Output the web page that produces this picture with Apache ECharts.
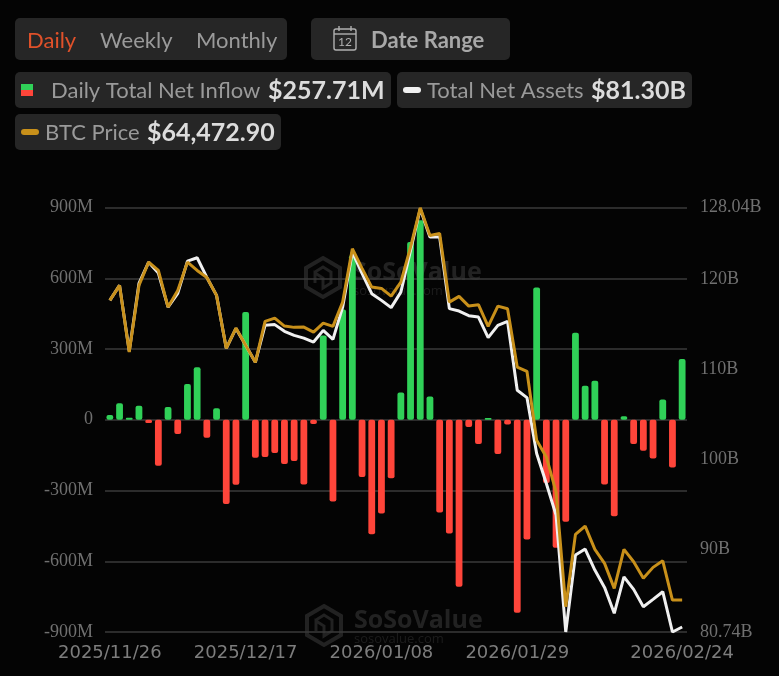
<!DOCTYPE html>
<html>
<head>
<meta charset="utf-8">
<title>Daily Total Net Inflow</title>
<style>
  html, body { margin: 0; padding: 0; background: #040404; }
  #chart { width: 779px; height: 676px; }
</style>
</head>
<body>
<div id="chart"></div>
<script src="https://cdn.jsdelivr.net/npm/echarts@6/dist/echarts.min.js"></script>
<script>
var dates = [
  '2025/11/26','2025/11/28','2025/12/01','2025/12/02','2025/12/03','2025/12/04','2025/12/05','2025/12/08','2025/12/09','2025/12/10',
  '2025/12/11','2025/12/12','2025/12/15','2025/12/16','2025/12/17','2025/12/18','2025/12/19','2025/12/22','2025/12/23','2025/12/24',
  '2025/12/26','2025/12/29','2025/12/30','2025/12/31','2026/01/02','2026/01/05','2026/01/06','2026/01/07','2026/01/08','2026/01/09',
  '2026/01/12','2026/01/13','2026/01/14','2026/01/15','2026/01/16','2026/01/20','2026/01/21','2026/01/22','2026/01/23','2026/01/26',
  '2026/01/27','2026/01/28','2026/01/29','2026/01/30','2026/02/02','2026/02/03','2026/02/04','2026/02/05','2026/02/06','2026/02/09',
  '2026/02/10','2026/02/11','2026/02/12','2026/02/13','2026/02/17','2026/02/18','2026/02/19','2026/02/20','2026/02/23','2026/02/24'
];
var shownDates = ['2025/11/26', '2025/12/17', '2026/01/08', '2026/01/29', '2026/02/24'];

// 单位：百万美元
var netInflow = [
  20, 70, 8, 59, -14, -195, 54, -60, 152, 223,
  -76, 49, -357, -276, 457, -161, -158, -141, -188, -175,
  -275, -18, 357, -347, 468, 698, -243, -485, -398, -248,
  116, 754, 846, 99, -393, -482, -708, -31, -103, 7,
  -145, -20, -818, -508, 561, -268, -543, -433, 369, 144,
  165, -275, -409, 15, -103, -131, -164, 86, -202, 257.71
];
// 单位：十亿美元
var netAssets = [
  117.69, 119.36, 112.01, 119.58, 121.95, 120.73, 116.94, 118.47, 122.06, 122.44,
  120.25, 118.25, 112.35, 114.57, 112.68, 110.79, 114.91, 114.99, 114.24, 113.79,
  113.49, 113.05, 114.35, 113.35, 116.94, 123.07, 120.70, 118.44, 117.69, 116.88,
  118.61, 123.26, 127.90, 124.74, 124.74, 116.77, 116.50, 115.99, 115.83, 113.54,
  114.91, 115.35, 107.67, 106.86, 100.63, 97.29, 93.76, 80.74, 89.31, 89.98,
  87.64, 85.71, 82.82, 86.89, 85.49, 83.56, 84.38, 85.23, 80.74, 81.30
];
var btcPrice = [
  89333, 90576, 85048, 90576, 92507, 91819, 88778, 90162, 92507, 91819,
  91239, 89747, 85355, 87037, 85604, 84195, 87593, 87866, 87203, 87095,
  87120, 86706, 87452, 87178, 89192, 93617, 91985, 90435, 90327, 89689,
  90849, 93750, 97015, 94719, 94885, 89192, 89664, 88860, 88976, 87178,
  88860, 88645, 83805, 83449, 77731, 76347, 73447, 63917, 69916, 70604,
  68673, 67513, 65441, 68673, 67646, 66270, 67182, 67729, 64472, 64472.90
];
var assetTicks = [80.74, 90, 100, 110, 120, 128.04];

var chart = echarts.init(document.getElementById('chart'));

function panel(x, y, w, h) {
  return { type: 'rect', shape: { x: x, y: y, width: w, height: h, r: 5 }, style: { fill: '#262626' } };
}
function label(text, x, y, size, color, weight, align) {
  return {
    type: 'text', x: x, y: y,
    style: {
      text: text, fill: color, font: (weight || 'normal') + ' ' + size + 'px Lato',
      textAlign: align || 'left', textVerticalAlign: 'middle'
    }
  };
}
function pill(x, y, w, h, color) {
  return { type: 'rect', shape: { x: x, y: y, width: w, height: h, r: 3 }, style: { fill: color } };
}
function watermark(x, y) {
  var c = 'rgba(125,125,125,0.25)';
  return {
    type: 'group', x: x, y: y, z: 1,
    children: [
      { type: 'polygon', shape: { points: [[17, 0], [34, 10], [34, 29], [17, 39], [0, 29], [0, 10]] }, style: { fill: 'none', stroke: c, lineWidth: 4 } },
      { type: 'polyline', shape: { points: [[9, 14], [17, 9], [25, 14], [25, 25], [17, 30], [17, 20], [9, 15], [9, 25]] }, style: { fill: 'none', stroke: c, lineWidth: 3 } },
      { type: 'text', x: 47, y: 15, style: { text: 'SoSoValue', fill: c, font: 'bold 25px "Open Sans"', textVerticalAlign: 'middle' } },
      { type: 'text', x: 47, y: 33, style: { text: 'sosovalue.com', fill: 'rgba(125,125,125,0.2)', font: '13px "Open Sans"', textVerticalAlign: 'middle' } }
    ]
  };
}

var header = [
  panel(15, 18, 272, 42),
  panel(311, 18, 199, 42),
  panel(15, 72, 376, 36),
  panel(397, 72, 295, 36),
  panel(15, 114, 266, 36),
  label('Daily', 27, 40.5, 22, '#e0512a'),
  label('Weekly', 100, 40.5, 22, '#9a9a9a'),
  label('Monthly', 196, 40.5, 22, '#9a9a9a'),
  { type: 'rect', shape: { x: 334, y: 29, width: 22, height: 21, r: 2 }, style: { fill: 'none', stroke: '#b0b0b0', lineWidth: 1.4 } },
  { type: 'line', shape: { x1: 334, y1: 34, x2: 356, y2: 34 }, style: { stroke: '#b0b0b0', lineWidth: 1.4 } },
  { type: 'line', shape: { x1: 339, y1: 26, x2: 339, y2: 31 }, style: { stroke: '#b0b0b0', lineWidth: 1.4 } },
  { type: 'line', shape: { x1: 351, y1: 26, x2: 351, y2: 31 }, style: { stroke: '#b0b0b0', lineWidth: 1.4 } },
  label('12', 345, 42, 12, '#b0b0b0', 'normal', 'center'),
  label('Date Range', 371, 40.5, 22, '#a8a8a8', 'bold'),
  { type: 'rect', shape: { x: 21, y: 84, width: 12, height: 6 }, style: { fill: '#30d158' } },
  { type: 'rect', shape: { x: 21, y: 90, width: 12, height: 6 }, style: { fill: '#ff453a' } },
  label('Daily Total Net Inflow', 51, 91, 22, '#9a9a9a'),
  label('$257.71M', 268, 91, 25, '#dcdcdc', 'bold'),
  pill(403, 87, 18, 6, '#f0f0f0'),
  label('Total Net Assets', 427, 91, 22, '#9a9a9a'),
  label('$81.30B', 591, 91, 25, '#dcdcdc', 'bold'),
  pill(21, 129, 18, 6, '#c8901a'),
  label('BTC Price', 45, 133, 22, '#9a9a9a'),
  label('$64,472.90', 147, 133, 25, '#dcdcdc', 'bold'),
  watermark(306, 258),
  watermark(307, 606)
];

var option = {
  backgroundColor: '#040404',
  animation: false,
  graphic: header,
  grid: { left: 105, right: 92, top: 207.5, bottom: 44, containLabel: false },
  xAxis: {
    type: 'category',
    data: dates,
    axisLine: { show: false },
    axisTick: { show: false },
    axisLabel: {
      color: '#7d7d7d',
      fontFamily: 'DejaVu Sans',
      fontSize: 18,
      margin: 12,
      hideOverlap: false,
      interval: function (i, v) { return shownDates.indexOf(v) >= 0; }
    }
  },
  yAxis: [
    {
      type: 'value', min: -900, max: 900, interval: 300,
      axisLine: { show: false }, axisTick: { show: false },
      axisLabel: {
        color: '#707070', fontFamily: 'Liberation Serif', fontSize: 18, margin: 12,
        padding: [2, 0, 0, 0],
        formatter: function (v) { return v === 0 ? '0' : v + 'M'; }
      },
      splitLine: { lineStyle: { color: '#3a3a3a', width: 1.5 } }
    },
    {
      type: 'value', min: 80.74, max: 128.04, position: 'right',
      axisLine: { show: false }, axisTick: { show: false },
      splitLine: { show: false },
      axisLabel: {
        color: '#707070', fontFamily: 'Liberation Serif', fontSize: 18, margin: 13,
        customValues: assetTicks,
        formatter: function (v) { return v + 'B'; }
      }
    },
    { type: 'value', min: 61820, max: 97040, show: false }
  ],
  series: [
    {
      name: 'Daily Total Net Inflow',
      type: 'bar',
      yAxisIndex: 0,
      data: netInflow,
      barWidth: 6.8,
      itemStyle: {
        borderRadius: 2,
        color: function (p) { return p.value >= 0 ? '#30d158' : '#ff453a'; }
      }
    },
    {
      name: 'Total Net Assets',
      type: 'line',
      yAxisIndex: 1,
      data: netAssets,
      symbol: 'none',
      lineStyle: { color: '#f0f0f0', width: 3 }
    },
    {
      name: 'BTC Price',
      type: 'line',
      yAxisIndex: 2,
      data: btcPrice,
      symbol: 'none',
      lineStyle: { color: '#c8901a', width: 3 }
    }
  ]
};

chart.setOption(option);
</script>
</body>
</html>
